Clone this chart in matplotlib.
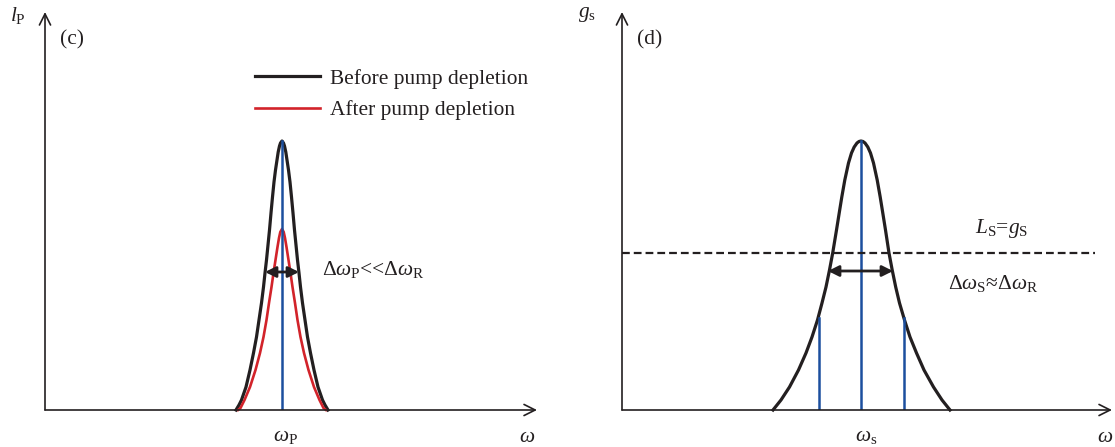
import matplotlib
matplotlib.use("Agg")
import matplotlib.pyplot as plt

# 字体设置（Times 风格）
plt.rcParams["font.family"] = ["Liberation Serif", "DejaVu Serif"]
plt.rcParams["mathtext.fontset"] = "custom"
plt.rcParams["mathtext.rm"] = "Liberation Serif"
plt.rcParams["mathtext.it"] = "Liberation Serif:italic"
plt.rcParams["mathtext.bf"] = "Liberation Serif:bold"

# ---- 数据（从图中读取，单位：相对坐标原点的像素） ----
# (c) 泵浦谱，中心位置
wp_center = 237
# 泵浦耗尽前（黑），半边轮廓：高度 -> 距中心偏移
before_h = [0, 5, 10, 23, 40, 57, 73, 90, 107, 123, 137, 150, 165, 180,
            197, 213, 228, 240, 250, 258, 264, 267, 269]
before_dx = [46, 43, 40.5, 36, 32, 28.5, 25.5, 23, 20.5, 18.5, 17, 15.5, 14,
             12.5, 11, 9.5, 8, 6.5, 5, 3.8, 2.5, 1.5, 0]
# 泵浦耗尽后（红）
after_h = [0, 2, 10, 23, 40, 57, 73, 90, 107, 123, 137, 150, 163, 172, 178,
           181]
after_dx = [44, 41.5, 37.5, 32, 26.5, 22, 18.5, 15.5, 13, 10.5, 8.5, 6.5,
            4.5, 3, 1.7, 0]
wp_arrow_h = 138
wp_arrow_dx = [-17, 17]

# (d) 增益谱
ws_center = 239
gain_h = [0, 10, 23, 40, 57, 73, 90, 107, 123, 140, 157, 180, 200, 213, 230,
          247, 257, 263, 267, 268.5, 269]
gain_dx_left = [88, 80, 71.5, 62.5, 55, 49, 43.5, 39, 35, 31.5, 28.3, 24.5,
                21.3, 19.2, 16.2, 12.5, 9.5, 6.8, 4, 2, 0]
gain_dx_right = [89, 81, 72.5, 63, 55.5, 49, 43.5, 38.5, 34.7, 31.2, 28,
                 24.5, 21.3, 19.2, 16.2, 12.5, 9.5, 6.8, 4, 2, 0]
mode_dx = [-42, 0, 43]
mode_h = [92, 269, 92]
loss_level = 157
loss_x = [0, 473]
ws_arrow_h = 139
ws_arrow_dx = [-33, 32]

ink = "#231f20"
red = "#d2232a"
blue = "#1c4f9e"
fs = 15.4

fig = plt.figure(figsize=(11.15, 4.47), dpi=100)
W, H = 1115.0, 447.0
axc = fig.add_axes([45 / W, 37 / H, 495 / W, 400 / H])
axd = fig.add_axes([622 / W, 37 / H, 495 / W, 400 / H])
for ax in (axc, axd):
    ax.set_xlim(0, 495)
    ax.set_ylim(0, 400)
    ax.axis("off")


def profile(center, dx_left, dx_right, h):
    xs = [center - d for d in dx_left] + [center + d for d in dx_right[::-1]]
    ys = list(h) + list(h[::-1])
    return xs, ys


def axes_arrows(ax, xend, yend):
    ap = dict(arrowstyle="->", lw=1.2, color=ink, mutation_scale=20,
              shrinkA=0, shrinkB=0)
    ax.annotate("", xy=(xend, 0), xytext=(0, 0), arrowprops=ap,
                annotation_clip=False)
    ax.annotate("", xy=(0, yend), xytext=(0, 0), arrowprops=ap,
                annotation_clip=False)


def double_arrow(ax, x0, x1, y):
    ax.annotate("", xy=(x1, y), xytext=(x0, y),
                arrowprops=dict(arrowstyle="<|-|>", lw=2, color=ink,
                                mutation_scale=16, shrinkA=0, shrinkB=0),
                annotation_clip=False)


# ---- (c) ----
axes_arrows(axc, 492, 398)
xb, yb = profile(wp_center, before_dx, before_dx, before_h)
xa, ya = profile(wp_center, after_dx, after_dx, after_h)
l_before, = axc.plot(xb, yb, color=ink, lw=2.3, solid_joinstyle="round",
                     clip_on=False, label="Before pump depletion")
l_after, = axc.plot(xa, ya, color=red, lw=1.9, solid_joinstyle="round",
                    clip_on=False, label="After pump depletion")
axc.plot([wp_center, wp_center], [0, max(before_h)], color=blue, lw=1.8)
double_arrow(axc, wp_center + wp_arrow_dx[0], wp_center + wp_arrow_dx[1],
             wp_arrow_h)

axc.legend(handles=[l_before, l_after], loc="upper left",
           bbox_to_anchor=(210, 341), bbox_transform=axc.transData,
           frameon=False, fontsize=fs, borderpad=0, borderaxespad=0,
           handlelength=3.05, handletextpad=0.47, labelspacing=0.54,
           labelcolor=ink)

axc.text(15, 370, "(c)", fontsize=fs, color=ink, ha="left", va="center")
axc.text(277, 140, r"$\Delta\omega_{\mathrm{P}}$<<$\Delta\omega_{\mathrm{R}}$",
         fontsize=fs, color=ink, ha="left", va="center")
axc.text(-35, 395, r"$l_{\mathrm{P}}$", fontsize=fs, color=ink,
         ha="left", va="center")
axc.text(wp_center + 3, -27, r"$\omega_{\mathrm{P}}$", fontsize=fs, color=ink,
         ha="center", va="center")
axc.text(482, -27, r"$\omega$", fontsize=fs, color=ink, ha="center",
         va="center")

# ---- (d) ----
axes_arrows(axd, 490, 398)
xg, yg = profile(ws_center, gain_dx_left, gain_dx_right, gain_h)
axd.plot(xg, yg, color=ink, lw=2.3, solid_joinstyle="round", clip_on=False)
for dx, h in zip(mode_dx, mode_h):
    axd.plot([ws_center + dx, ws_center + dx], [0, h], color=blue, lw=1.8)
axd.plot(loss_x, [loss_level, loss_level], color=ink, lw=1.6,
         linestyle=(0, (3.5, 1.8)))
double_arrow(axd, ws_center + ws_arrow_dx[0], ws_center + ws_arrow_dx[1],
             ws_arrow_h)

axd.text(15, 370, "(d)", fontsize=fs, color=ink, ha="left", va="center")
axd.text(-44, 395, r"$g_{\mathrm{s}}$", fontsize=fs, color=ink,
         ha="left", va="center")
axd.text(353, 181, r"$L_{\mathrm{S}}$=$g_{\mathrm{S}}$", fontsize=fs,
         color=ink, ha="left", va="center")
axd.text(326, 127, r"$\Delta\omega_{\mathrm{S}}$≈$\Delta\omega_{\mathrm{R}}$",
         fontsize=fs, color=ink, ha="left", va="center")
axd.text(ws_center + 5, -27, r"$\omega_{\mathrm{s}}$", fontsize=fs,
         color=ink, ha="center", va="center")
axd.text(483, -27, r"$\omega$", fontsize=fs, color=ink, ha="center",
         va="center")

fig.savefig("out.png", dpi=100)
